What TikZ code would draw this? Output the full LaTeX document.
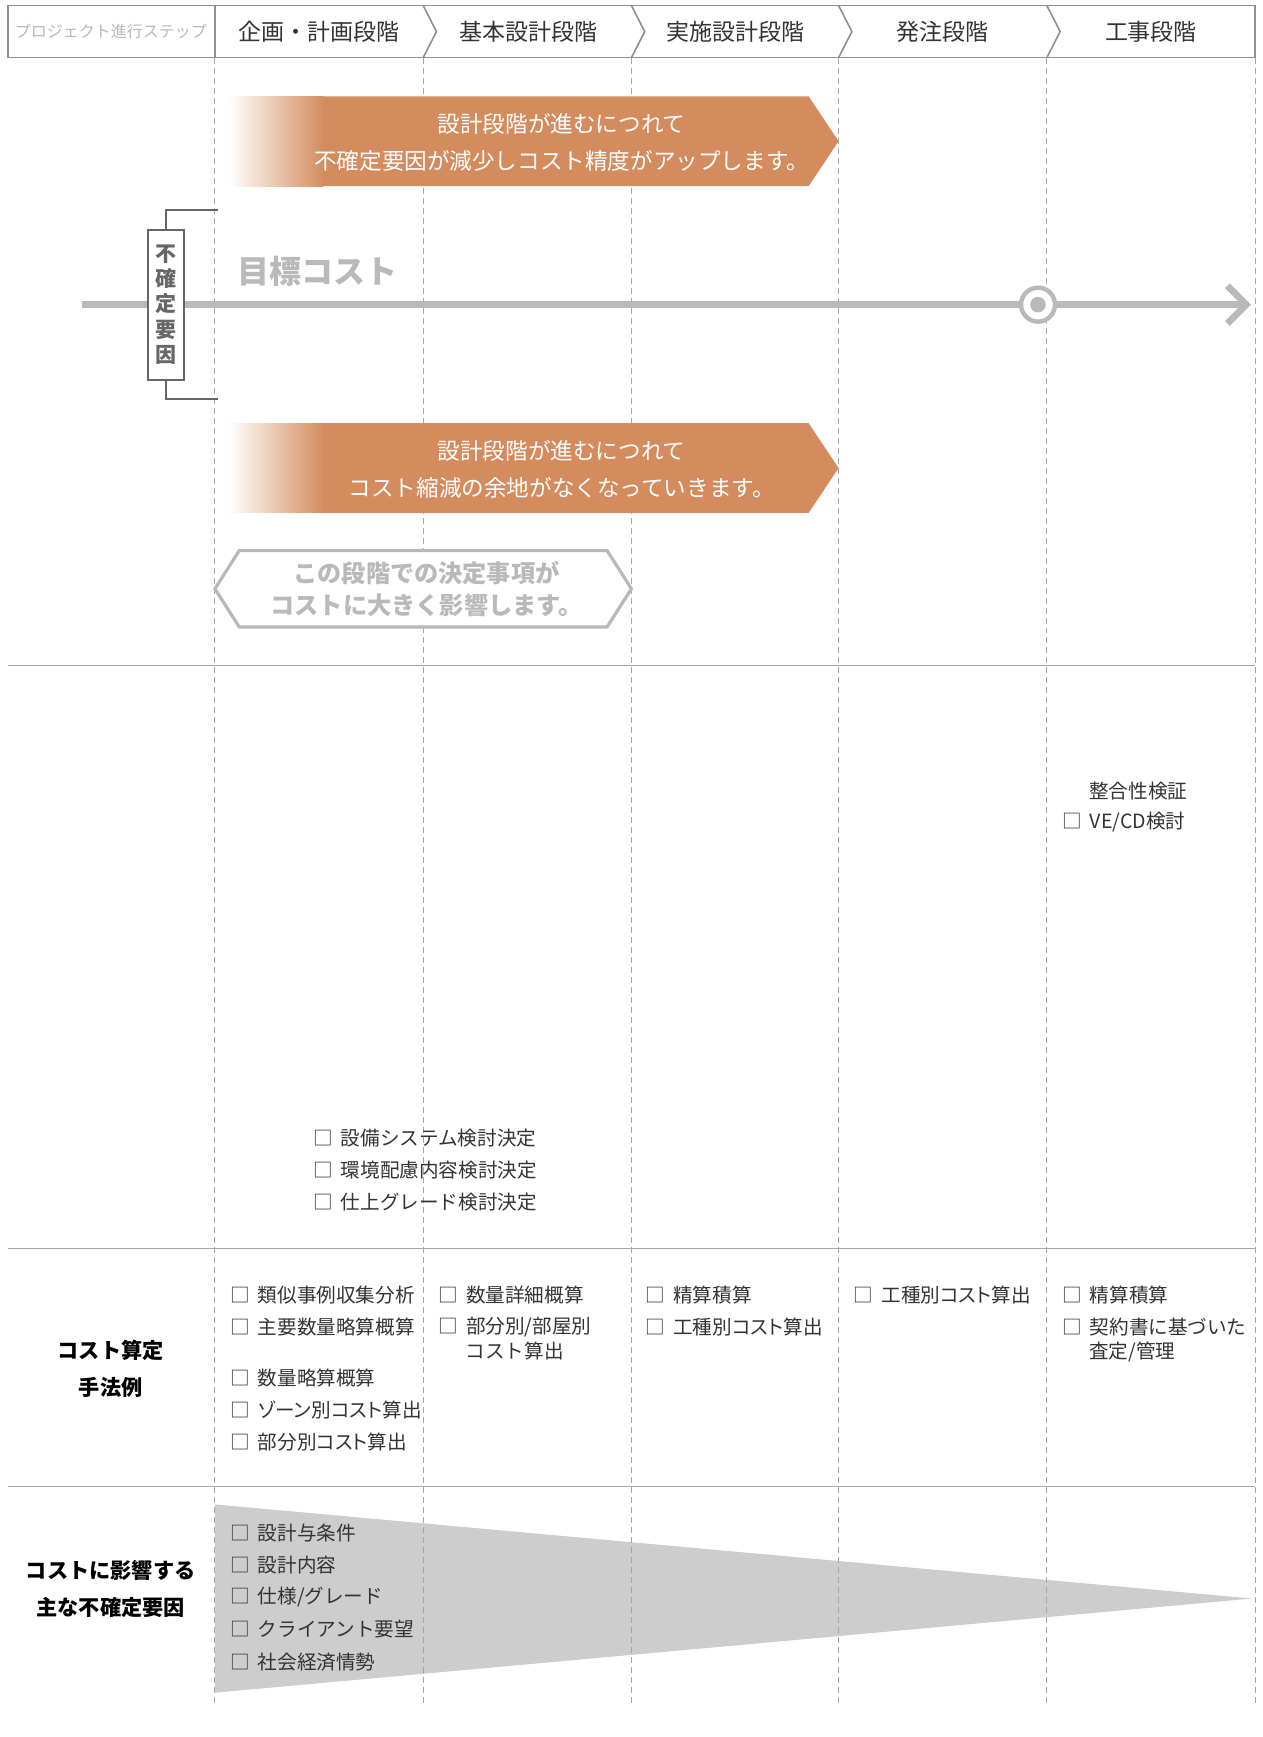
\documentclass[tikz,border=0pt]{standalone}
\usepackage{fontspec}
\setmainfont{Noto Sans CJK JP}
\usepackage{tikz}
\usetikzlibrary{arrows,positioning}
\definecolor{stepgray}{HTML}{8E8E8E}
\definecolor{softgray}{HTML}{B9B9B9}
\definecolor{rulegray}{HTML}{A6A6A6}
\definecolor{boxgray}{HTML}{666666}
\definecolor{funnelgray}{HTML}{CDCDCD}
\definecolor{costorange}{HTML}{D48C5F}
\definecolor{inkgray}{HTML}{333333}
\newcommand{\chk}{□\hspace{4pt}}
\newcommand{\narrow}{\addfontfeatures{RawFeature=+palt}}
\tikzset{font=\small}
\tikzset{every node/.append style={transform shape=false}}
\tikzset{
  stage/.style={text=inkgray,font=\fontsize{11.5}{14}\selectfont},
  item/.style={anchor=west,inner sep=0pt,text=inkgray,font=\fontsize{9.8}{12}\selectfont},
  rowlabel/.style={align=center,text=black,font=\bfseries\fontsize{10.6}{18.3}\selectfont},
  banner/.style={align=center,text=white,font=\fontsize{11.3}{18.3}\selectfont},
  guide/.style={rulegray,dash pattern=on 3pt off 2pt,line width=.5pt},
  costline/.style={softgray,line width=3.4pt}
}

\begin{document}
\begin{tikzpicture}[x=0.554pt,y=-0.554pt]
  \useasboundingbox (0,0) rectangle (1140,1568);
  \draw[stepgray,line width=.8pt] (7,5) rectangle (1133,52);
  \draw[stepgray,line width=.8pt] (194,5) -- (194,52);
  \foreach \x in {382,570,757,945}
    \draw[stepgray,line width=.8pt] (\x,5) -- (\x+12,28.5) -- (\x,52);
  \node[text=softgray,font=\fontsize{8}{10}\selectfont] (h0) at (100,28.5) {プロジェクト進行ステップ};
  \node[stage] (h1) at (288,28.5) {企画・計画段階};
  \node[stage] (h2) at (477,28.5) {基本設計段階};
  \node[stage] (h3) at (664,28.5) {実施設計段階};
  \node[stage] (h4) at (851,28.5) {発注段階};
  \node[stage] (h5) at (1039,28.5) {工事段階};

  \fill[funnelgray] (194,1358) -- (1130,1443) -- (194,1528) -- cycle;
  \foreach \x in {194,382,570,757,945,1133}
    \draw[guide] (\x,52) -- (\x,1540);
  \foreach \y in {601,1127,1342}
    \draw[rulegray,line width=.6pt] (7,\y) -- (1133,\y);

  \fill[costorange] (207,87) -- (730,87) -- (757,127.5) -- (730,168) -- (207,168) -- cycle;
  \shade[left color=white,right color=costorange] (207,87) rectangle (292,168);
  \node[banner] (bannerA) at (507,128.5) {設計段階が進むにつれて\\不確定要因が減少しコスト精度がアップします。};
  \fill[costorange] (207,382) -- (730,382) -- (757,422.5) -- (730,463) -- (207,463) -- cycle;
  \shade[left color=white,right color=costorange] (207,382) rectangle (292,463);
  \node[banner] (bannerB) at (507,423.5) {設計段階が進むにつれて\\コスト縮減の余地がなくなっていきます。};

  \coordinate (lineL) at (74,275);
  \coordinate (lineR) at (1125,275);
  \node[circle,draw=softgray,fill=white,line width=2.2pt,minimum size=17pt,inner sep=0pt] (goal) at (937,275) {};
  \draw[costline] (lineL) -- (goal.west);
  \draw[costline] (goal.east) -- (lineR);
  \draw[costline,line join=miter] (1108,258) -- (lineR) -- (1108,292);
  \fill[softgray] (goal.center) circle (7);
  \node[text=softgray,font=\bfseries\fontsize{16}{18}\selectfont] (target) at (287,245) {目標コスト};

  \node[draw=boxgray,fill=white,line width=1pt,minimum width=18pt,minimum height=75pt,inner sep=0pt,align=center,text=boxgray,font=\bfseries\fontsize{10.5}{12.7}\selectfont] (factor) at (149.5,275) {不\\確\\定\\要\\因};
  \draw[boxgray,line width=1pt] (factor.north) |- (197,190);
  \draw[boxgray,line width=1pt] (factor.south) |- (197,360);

  \draw[softgray,line width=1.6pt,fill=white] (194,531.5) -- (216,497) -- (548,497) -- (570,531.5) -- (548,566) -- (216,566) -- cycle;
  \node[rowlabel,text=softgray,font=\bfseries\fontsize{12.1}{16}\selectfont] (decide) at (385,531.5) {この段階での決定事項が\\コストに大きく影響します。};

  \node[item] (check1) at (983,714) {整合性検証};
  \node[item] (check2) at (958.5,742) {\chk VE/CD検討};
  \node[item] (fix1) at (282.5,1027) {\chk 設備システム検討決定};
  \node[item] (fix2) at (282.5,1056) {\chk 環境配慮内容検討決定};
  \node[item] (fix3) at (282.5,1085) {\chk 仕上グレード検討決定};

  \node[rowlabel] (method) at (100,1235.5) {コスト算定\\手法例};
  \node[item] (m11) at (207.5,1169) {\chk 類似事例収集分析};
  \node[item] (m12) at (207.5,1198) {\chk 主要数量略算概算};
  \node[item] (m13) at (207.5,1244) {\chk 数量略算概算};
  \node[item] (m14) at (207.5,1273) {\chk {\narrow ゾーン別コスト算出}};
  \node[item] (m15) at (207.5,1302) {\chk {\narrow 部分別コスト算出}};
  \node[item] (m21) at (395.5,1169) {\chk 数量詳細概算};
  \node[item] (m22) at (395.5,1198) {\chk 部分別/部屋別};
  \node[item] (m23) at (420,1220) {コスト算出};
  \node[item] (m31) at (582.5,1169) {\chk 精算積算};
  \node[item] (m32) at (582.5,1198) {\chk {\narrow 工種別コスト算出}};
  \node[item] (m41) at (770.5,1169) {\chk {\narrow 工種別コスト算出}};
  \node[item] (m51) at (958.5,1169) {\chk 精算積算};
  \node[item] (m52) at (958.5,1198) {\chk 契約書に基づいた};
  \node[item] (m53) at (983,1220) {査定/管理};

  \node[rowlabel] (risk) at (100,1434.5) {コストに影響する\\主な不確定要因};
  \node[item] (r1) at (207.5,1384) {\chk 設計与条件};
  \node[item] (r2) at (207.5,1413) {\chk 設計内容};
  \node[item] (r3) at (207.5,1442) {\chk 仕様/グレード};
  \node[item] (r4) at (207.5,1471) {\chk クライアント要望};
  \node[item] (r5) at (207.5,1500) {\chk 社会経済情勢};
\end{tikzpicture}
\end{document}
